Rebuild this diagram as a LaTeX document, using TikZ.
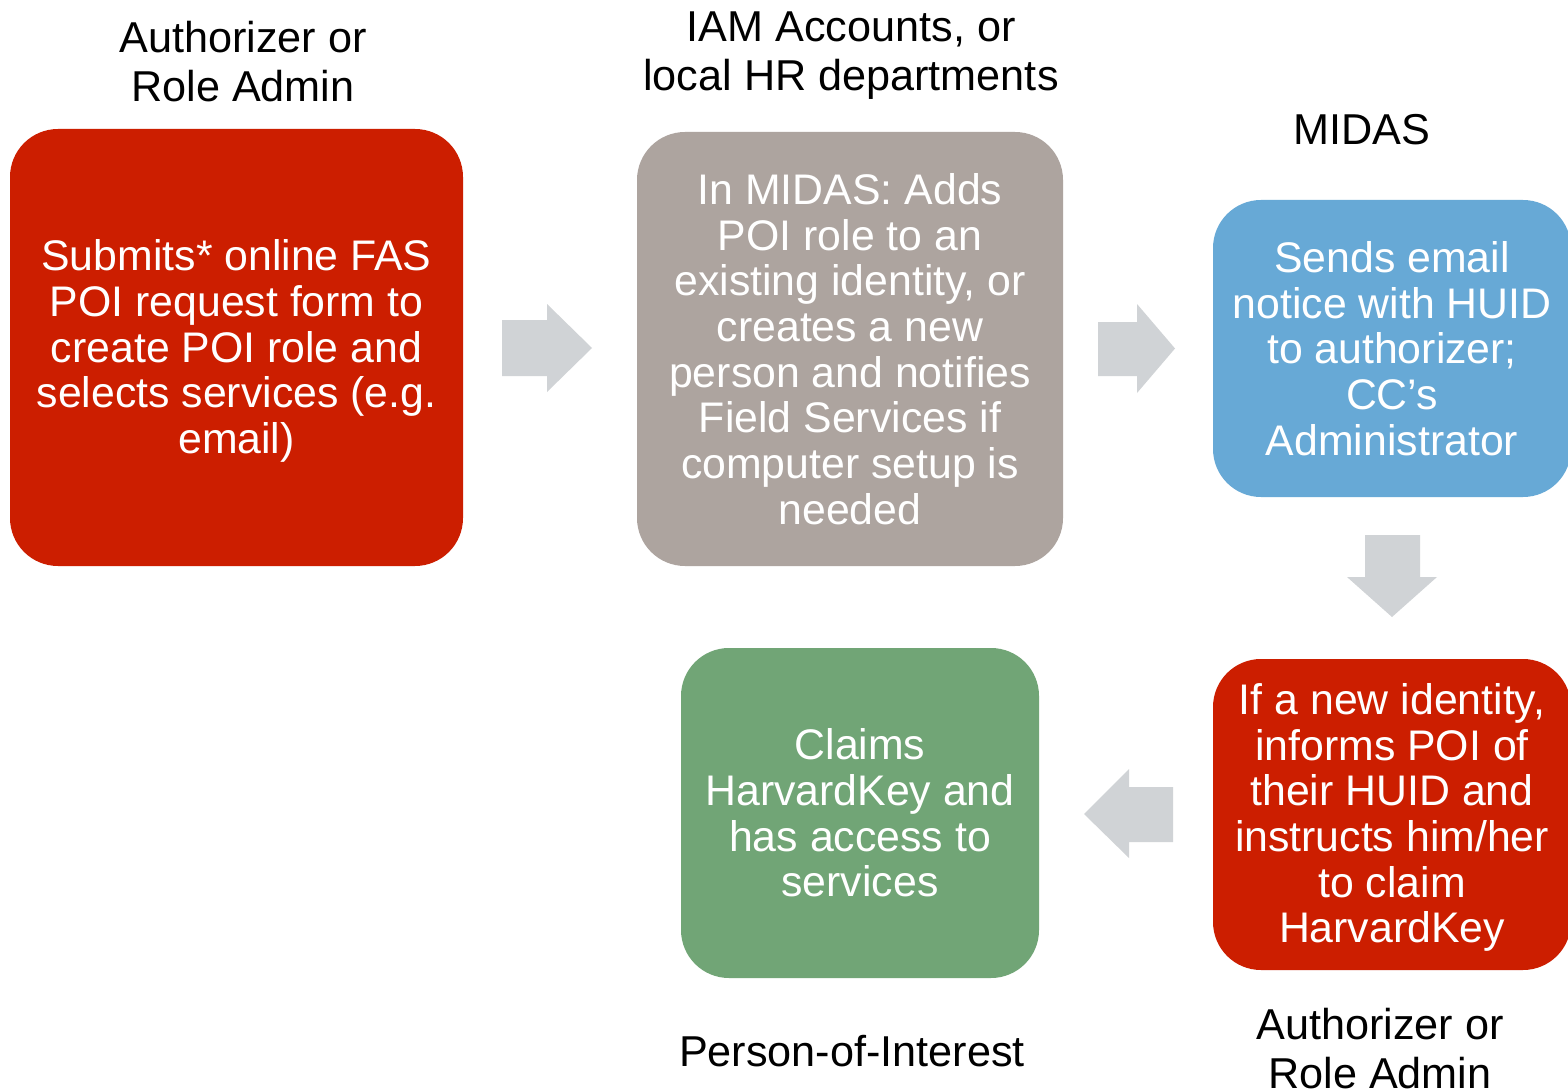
\documentclass[tikz,border=0pt]{standalone}
\usepackage{fontspec}
\setmainfont{Liberation Sans}
\definecolor{boxred}{RGB}{204,30,0}
\definecolor{boxgrey}{RGB}{173,164,159}
\definecolor{boxblue}{RGB}{103,169,214}
\definecolor{boxgreen}{RGB}{113,165,118}
\definecolor{arrowgrey}{RGB}{208,211,214}
\begin{document}
\begin{tikzpicture}[x=1pt,y=-1pt,
  stepbox/.style={rounded corners=48pt, inner sep=0pt, align=center, text=white,
    font=\fontsize{42.8}{45.7}\selectfont},
  heading/.style={inner sep=0pt, align=center, text=black,
    font=\fontsize{43.2}{49}\selectfont},
  blockarrow/.style={fill=arrowgrey, draw=none}]
\useasboundingbox (0,0) rectangle (1568,1091);
\fill[white] (0,0) rectangle (1568,1091);

% boxes
\node[stepbox, fill=boxred, minimum width=453pt, minimum height=437pt] (b1) at (236.5,347.5) {};
\node[stepbox] (t1) at (b1.center) [yshift=-3.5pt]
  {Submits* online FAS\\POI request form to\\create POI role and\\selects services (e.g.\\email)};
\node[stepbox, fill=boxgrey, minimum width=426pt, minimum height=434pt] (b2) at (850,349)
  {In MIDAS: Adds\\POI role to an\\existing identity, or\\creates a new\\person and notifies\\Field Services if\\computer setup is\\needed};
\node[stepbox, fill=boxblue, minimum width=358pt, minimum height=297pt] (b3) at (1392,348.5)
  {Sends email\\notice with HUID\\to authorizer;\\CC’s\\Administrator};
\node[stepbox, fill=boxred, minimum width=358pt, minimum height=311pt] (b4) at (1392,814.5) {};
\node[stepbox] (t4) at (b4.center) [yshift=-3pt]
  {If a new identity,\\informs POI of\\their HUID and\\instructs him/her\\to claim\\HarvardKey};
\node[stepbox, fill=boxgreen, minimum width=358pt, minimum height=330pt] (b5) at (860,813)
  {Claims\\HarvardKey and\\has access to\\services};

% headings
\node[heading] (h1) at (243,62) {Authorizer or\\Role Admin};
\node[heading] (h2) at (851,56) {IAM Accounts, or\\local HR departments};
\node[heading] (h3) at (1362,130) {MIDAS};
\node[heading] (h4) at (852,1051) {Person-of-Interest};
\node[heading] (h5) at (1380,1049) {Authorizer or\\Role Admin};

% block arrows
\fill[blockarrow] (502,320) -- (547,320) -- (547,304) -- (592,348) -- (547,392) -- (547,376) -- (502,376) -- cycle;
\fill[blockarrow] (1098,322) -- (1137,322) -- (1137,304) -- (1175,348.5) -- (1137,393) -- (1137,376) -- (1098,376) -- cycle;
\fill[blockarrow] (1365,535) -- (1420,535) -- (1420,577) -- (1437,577) -- (1392,617) -- (1347,577) -- (1365,577) -- cycle;
\fill[blockarrow] (1173,787) -- (1129,787) -- (1129,769) -- (1084,814) -- (1129,858) -- (1129,842) -- (1173,842) -- cycle;
\end{tikzpicture}
\end{document}
